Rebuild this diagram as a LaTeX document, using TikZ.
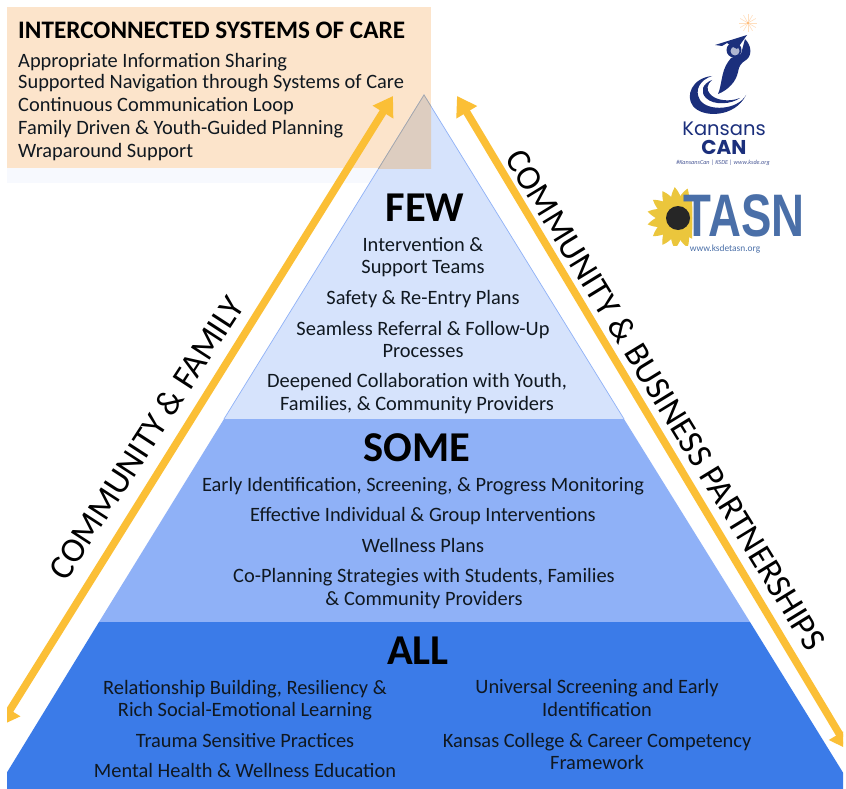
\documentclass[tikz,border=0pt]{standalone}
\usepackage{fontspec}
\setmainfont{Carlito}
\newfontfamily\logofont{Liberation Sans}
\newfontfamily\geofont{Poppins}
\usetikzlibrary{arrows.meta}
\definecolor{fewc}{HTML}{D6E3FC}
\definecolor{somec}{HTML}{8FB1F7}
\definecolor{allc}{HTML}{3B7BE8}
\definecolor{boxc}{HTML}{FCE4CB}
\definecolor{apexc}{HTML}{DDCDC0}
\definecolor{arrowc}{HTML}{FBBF36}
\definecolor{inkc}{HTML}{101820}
\definecolor{navyc}{HTML}{1B2F7C}
\definecolor{tasnc}{HTML}{4A6FA8}
\definecolor{sunc}{HTML}{EBC63C}
\tikzset{
 body/.style={inner sep=0pt,text=inkc,font=\fontsize{20.4}{22.6}\selectfont,align=center},
 boxline/.style={inner sep=0pt,text=inkc,anchor=west,font=\fontsize{20.4}{22.6}\selectfont},
 tier/.style={inner sep=0pt,text=black,font=\bfseries\fontsize{42.5}{42.5}\selectfont},
 side/.style={inner sep=0pt,text=black,font=\fontsize{34.7}{35}\selectfont},
 flow/.style={draw=arrowc,line width=7.5pt,{Triangle[length=19pt,width=23pt]}-{Triangle[length=19pt,width=23pt]}},
}
\begin{document}
\begin{tikzpicture}[x=1pt,y=-1pt]
\useasboundingbox (0,0) rectangle (846,789);
\fill[white] (0,0) rectangle (846,789);
% box
\fill[boxc] (7,7) rectangle (431,168);
\fill[fewc!20] (7,168) rectangle (431,183);
% pyramid
\begin{scope}
\clip (7,0) rectangle (843,789);
\fill[fewc] (424,95) -- (224,419) -- (624,419) -- cycle;
\draw[somec,line width=.7pt] (224,419) -- (424,95) -- (624,419);
\fill[somec] (224,419) -- (624,419) -- (750,622) -- (99,622) -- cycle;
\fill[allc] (99,622) -- (750,622) -- (855,792) -- (-5,792) -- cycle;
\end{scope}
\begin{scope}
\clip (7,7) rectangle (431,168);
\fill[apexc] (424,95) -- (224,419) -- (624,419) -- cycle;
\draw[gray!70,line width=.7pt] (224,419) -- (424,95) -- (624,419);
\end{scope}
% arrows
\coordinate (lt) at (393,96);
\coordinate (lb) at (0,726);
\coordinate (rt) at (457,96);
\coordinate (rb) at (849,750);
\begin{scope}
\clip (7,0) rectangle (843,789);
\draw[flow] (lb) -- (lt);
\draw[flow] (rb) -- (rt);
\end{scope}
\node[boxline,font=\bfseries\fontsize{25.2}{26}\selectfont,text=black] (boxtitle) at (18,30) {INTERCONNECTED SYSTEMS OF CARE};
\node[boxline] (b1) at (18,62) {Appropriate Information Sharing};
\node[boxline] (b2) at (18,83) {Supported Navigation through Systems of Care};
\node[boxline] (b3) at (18,106.5) {Continuous Communication Loop};
\node[boxline] (b4) at (18,129) {Family Driven \& Youth-Guided Planning};
\node[boxline] (b5) at (18,152) {Wraparound Support};
% few
\node[tier] (few) at (425,208) {FEW};
\node[body] (f1) at (423,257) {Intervention \&\\Support Teams};
\node[body] (f2) at (423,299) {Safety \& Re-Entry Plans};
\node[body] (f3) at (423,339.5) {Seamless Referral \& Follow-Up\\Processes};
\node[body] (f4) at (417,393.5) {Deepened Collaboration with Youth,\\Families, \& Community Providers};
% some
\node[tier] (some) at (417,448) {SOME};
\node[body] (s1) at (423,486) {Early Identification, Screening, \& Progress Monitoring};
\node[body] (s2) at (423,516) {Effective Individual \& Group Interventions};
\node[body] (s3) at (423,545) {Wellness Plans};
\node[body] (s4) at (424,588.5) {Co-Planning Strategies with Students, Families\\\& Community Providers};
% all
\node[tier] (all) at (418,651) {ALL};
\node[body] (a1) at (245,700) {Relationship Building, Resiliency \&\\Rich Social-Emotional Learning};
\node[body] (a2) at (245,741) {Trauma Sensitive Practices};
\node[body] (a3) at (245,770) {Mental Health \& Wellness Education};
\node[body] (a4) at (597,698) {Universal Screening and Early\\Identification};
\node[body] (a5) at (597,751.5) {Kansas College \& Career Competency\\Framework};
% side labels
\node[side,rotate=57] (cf) at (146,438) {COMMUNITY \& FAMILY};
\node[side,rotate=-58.5] (cb) at (666,400) {COMMUNITY \& BUSINESS PARTNERSHIPS};
% Kansans CAN logo
\foreach \a in {0,30,...,330}
  \draw[draw=orange!25,line width=.6pt] (748,23) -- +(\a:9);
\fill[orange!60] (748,23) circle (1.2);
\fill[navyc] (734,50) circle (7.5);
\fill[navyc!35] (735,51) circle (4.5);
\fill[navyc] (715,45) -- (747,35) -- (737,49) -- (733,47) -- (727,43) -- (722,46) -- cycle;
\fill[navyc] (731,58) -- (741,54) -- (745,39) .. controls (752,46) and (752,56) .. (746,60) .. controls (741,63) and (739,66) .. (738,72) .. controls (736,82) and (728,90) .. (718,94) .. controls (722,85) and (721,72) .. (728,62) -- cycle;
\fill[navyc] (712,76) .. controls (692,78) and (685,96) .. (693,106) .. controls (702,118) and (735,118) .. (746,95) .. controls (738,110) and (708,112) .. (700,100) .. controls (694,90) and (700,80) .. (712,76) -- cycle;
\fill[navyc] (712,80) .. controls (702,84) and (700,92) .. (706,98) .. controls (714,106) and (732,104) .. (740,98) .. controls (730,102) and (716,101) .. (710,94) .. controls (706,90) and (707,84) .. (712,80) -- cycle;
\node[inner sep=0pt,text=navyc,font=\geofont\fontsize{19.5}{20}\selectfont] (kans) at (724,129) {Kansans};
\node[inner sep=0pt,text=navyc,font=\geofont\bfseries\fontsize{20}{20}\selectfont] (can) at (724,147) {CAN};
\node[inner sep=0pt,text=navyc!80,font=\itshape\fontsize{6.2}{7}\selectfont] (ktag) at (723,163) {\#KansansCan | KSDE | www.ksde.org};
% sunflower and TASN
\begin{scope}
\clip (640,185) rectangle (692,245);
\foreach \a in {0,24,...,336}
  \fill[sunc,rotate around={\a:(678,218)}] (688,211) .. controls (698,212) and (705,215) .. (709,218) .. controls (705,221) and (698,224) .. (688,225) -- cycle;
\fill[sunc] (678,218) circle (18);
\fill[black!85] (678,218) circle (12);
\end{scope}
\node[inner sep=0pt,text=tasnc,xscale=.76,font=\logofont\bfseries\fontsize{60}{60}\selectfont] (tasn) at (744,216) {TASN};
\node[inner sep=0pt,text=tasnc,font=\fontsize{9.4}{9}\selectfont] (turl) at (725,249) {www.ksdetasn.org};
\end{tikzpicture}
\end{document}
